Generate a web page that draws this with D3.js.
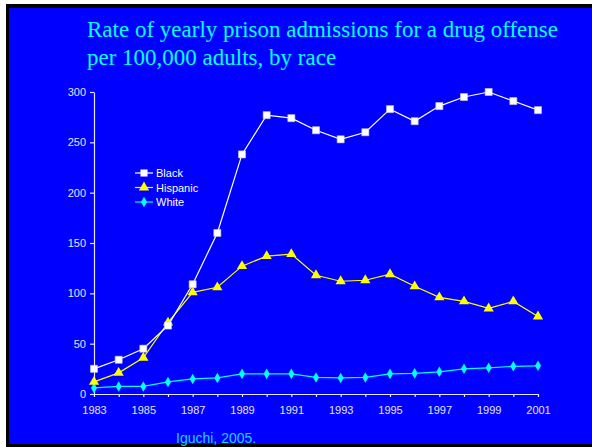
<!DOCTYPE html>
<html>
<head>
<meta charset="utf-8">
<script src="https://cdn.jsdelivr.net/npm/d3@7"></script>
<style>
  body { margin: 0; background: #fff; }
  svg { display: block; }
</style>
</head>
<body>
<div id="chart"></div>
<script>
const years = d3.range(1983, 2002);
const black = [25, 34, 45, 68, 109, 160, 238, 277, 274, 262, 253, 260, 283, 271, 286, 295, 300, 291, 282];
const hispanic = [12, 21, 36, 71, 101, 106, 127, 137, 139, 118, 112, 113, 119, 107, 96, 92, 85, 92, 77];
const white = [6, 7.5, 7.5, 12, 15, 16, 20, 20, 20, 16.5, 16, 16.5, 20, 20.5, 22, 25, 26, 27.5, 28];
const yTicks = [0, 50, 100, 150, 200, 250, 300];
const xLabels = [1983, 1985, 1987, 1989, 1991, 1993, 1995, 1997, 1999, 2001];

const W = 592, H = 447;
const svg = d3.select("#chart").append("svg")
    .attr("width", W)
    .attr("height", H);

// slide frame
svg.append("rect").attr("x", 6).attr("y", 4).attr("width", W - 6).attr("height", H - 4).attr("fill", "#000");
svg.append("rect").attr("x", 9).attr("y", 8).attr("width", W - 9).attr("height", 436).attr("fill", "#0000FF");

// title
const title = svg.append("text")
    .attr("font-family", "'Liberation Serif', 'Times New Roman', serif")
    .attr("font-size", 23)
    .attr("fill", "#00FFFF");
title.append("tspan").attr("x", 87).attr("y", 37).text("Rate of yearly prison admissions for a drug offense");
title.append("tspan").attr("x", 87).attr("y", 65).text("per 100,000 adults, by race");

const x = d3.scaleLinear().domain([1983, 2001]).range([94, 538]);
const y = d3.scaleLinear().domain([0, 300]).range([394, 92]);
const axisColor = "#E4E4FF";

const yAxis = svg.append("g")
    .attr("transform", `translate(${x(1983)},0)`)
    .call(d3.axisLeft(y).tickValues(yTicks).tickSize(4).tickPadding(4).tickSizeOuter(0));
const xAxis = svg.append("g")
    .attr("transform", `translate(0,${y(0)})`)
    .call(d3.axisBottom(x).tickValues(years).tickSize(3).tickPadding(9).tickSizeOuter(0)
        .tickFormat(d => xLabels.includes(d) ? d : ""));

[yAxis, xAxis].forEach(g => {
    g.selectAll("path, line").attr("stroke", axisColor).attr("stroke-width", 1.2);
    g.selectAll("text")
        .attr("fill", axisColor)
        .attr("font-family", "'Liberation Sans', Arial, sans-serif")
        .attr("font-size", 11);
});

const series = [
    { name: "Black", values: black, color: "#FFFFFF", shape: d3.symbolSquare, size: 50 },
    { name: "Hispanic", values: hispanic, color: "#FFFF00", shape: d3.symbolTriangle, size: 45 },
    { name: "White", values: white, color: "#00FFFF", shape: d3.symbolDiamond, size: 32 }
];

const line = d3.line().x((d, i) => x(years[i])).y(d => y(d));

series.slice().reverse().forEach(s => {
    svg.append("path")
        .datum(s.values)
        .attr("d", line)
        .attr("fill", "none")
        .attr("stroke", s.color)
        .attr("stroke-width", 1.2);
    svg.append("g").selectAll("path")
        .data(s.values)
        .join("path")
        .attr("transform", (d, i) => `translate(${x(years[i])},${y(d)})`)
        .attr("d", d3.symbol().type(s.shape).size(s.size))
        .attr("fill", s.color)
        .attr("stroke", s.name === "Black" ? "#C8C8C8" : "none")
        .attr("stroke-width", 0.6);
});

// legend
const legend = svg.append("g").attr("transform", "translate(135,173)");
series.forEach((s, i) => {
    const row = legend.append("g").attr("transform", `translate(0,${i * 14.5})`);
    row.append("line").attr("x1", 0).attr("x2", 18).attr("stroke", s.color).attr("stroke-width", 1.2);
    row.append("path")
        .attr("transform", "translate(9,0)")
        .attr("d", d3.symbol().type(s.shape).size(s.size))
        .attr("fill", s.color);
    row.append("text")
        .attr("x", 21).attr("y", 4)
        .attr("fill", "#FFFFFF")
        .attr("font-family", "'Liberation Sans', Arial, sans-serif")
        .attr("font-size", 11)
        .text(s.name);
});

// source
svg.append("text")
    .attr("x", 176).attr("y", 443)
    .attr("fill", "#22CCFF")
    .attr("font-family", "'Liberation Sans', Arial, sans-serif")
    .attr("font-size", 14)
    .text("Iguchi, 2005.");
</script>
</body>
</html>
